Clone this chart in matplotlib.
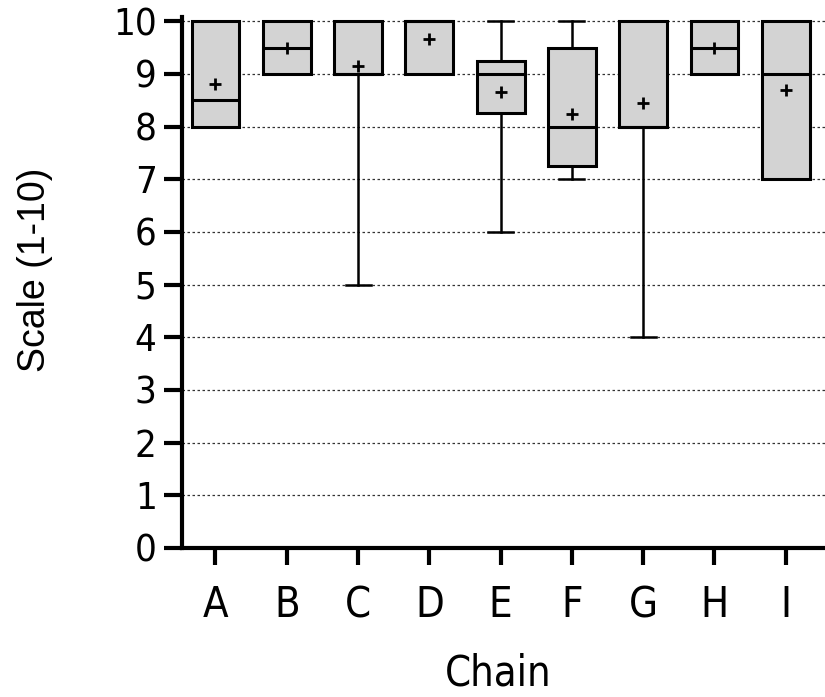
import matplotlib
matplotlib.use('Agg')
import numpy as np
import matplotlib.pyplot as plt
from matplotlib import font_manager

# box statistics
chains = ['A', 'B', 'C', 'D', 'E', 'F', 'G', 'H', 'I']
q1 = [8, 9, 9, 9, 8.25, 7.25, 8, 9, 7]
med = [8.5, 9.5, 9, 10, 9, 8, 8, 9.5, 9]
q3 = [10, 10, 10, 10, 9.25, 9.5, 10, 10, 10]
whislo = [8, 9, 5, 9, 6, 7, 4, 9, 7]
whishi = [10, 10, 10, 10, 10, 10, 10, 10, 10]
means = [8.8, 9.5, 9.15, 9.66, 8.66, 8.24, 8.44, 9.5, 8.7]

# the reference uses a narrow grotesque; take one if the machine has it
entries = [(f.name, f.stretch) for f in font_manager.fontManager.ttflist]
names = set(n for n, _ in entries)
if 'Liberation Sans Narrow' in names:
    FONT, STRETCH = ['Liberation Sans Narrow', 'DejaVu Sans'], 'normal'
elif ('DejaVu Sans', 'condensed') in entries:
    FONT, STRETCH = ['DejaVu Sans'], 'condensed'
else:
    FONT, STRETCH = ['Liberation Sans', 'DejaVu Sans'], 'normal'
plt.rcParams['font.family'] = FONT
plt.rcParams['font.stretch'] = STRETCH

fig = plt.figure(figsize=(8.25, 6.97), dpi=100)
ax = fig.add_axes([0.2202, 0.2138, 0.7798, 0.7618])

stats = []
for i in range(len(chains)):
    stats.append({'label': chains[i], 'q1': q1[i], 'med': med[i], 'q3': q3[i],
                  'whislo': whislo[i], 'whishi': whishi[i], 'mean': means[i],
                  'fliers': []})

pos = np.arange(len(chains))
ax.bxp(stats, positions=pos, widths=0.67, capwidths=0.35, patch_artist=True,
       showmeans=True, showfliers=False,
       boxprops=dict(facecolor='#d3d3d3', edgecolor='black', linewidth=2.2),
       medianprops=dict(color='black', linewidth=2.2),
       whiskerprops=dict(color='black', linewidth=1.8),
       capprops=dict(color='black', linewidth=1.8),
       meanprops=dict(marker='+', markersize=9, markeredgewidth=2,
                      markeredgecolor='black'))

ax.set_ylim(0, 10.08)
ax.set_xlim(-0.474, 8.55)
ax.set_yticks(range(0, 11))
ax.yaxis.grid(True, linestyle=(0, (2, 2)), color='#333333', linewidth=0.9)
ax.set_axisbelow(True)

ax.set_xticks(pos)
ax.set_xticklabels(chains)

for s in ['top', 'right']:
    ax.spines[s].set_visible(False)
for s in ['left', 'bottom']:
    ax.spines[s].set_linewidth(3)
ax.tick_params(axis='y', length=13, width=3, pad=5, labelsize=27.5)
ax.tick_params(axis='x', length=12, width=3, pad=14, labelsize=30)

fig.text(35 / 825, 1 - 270 / 697, 'Scale (1-10)', rotation=90,
         ha='center', va='center', fontsize=27,
         family=['Liberation Sans', 'DejaVu Sans'], fontstretch='normal')
fig.text(498 / 825, 2 / 697, 'Chain', ha='center', va='bottom', fontsize=30)

fig.savefig('out.png', dpi=100)
